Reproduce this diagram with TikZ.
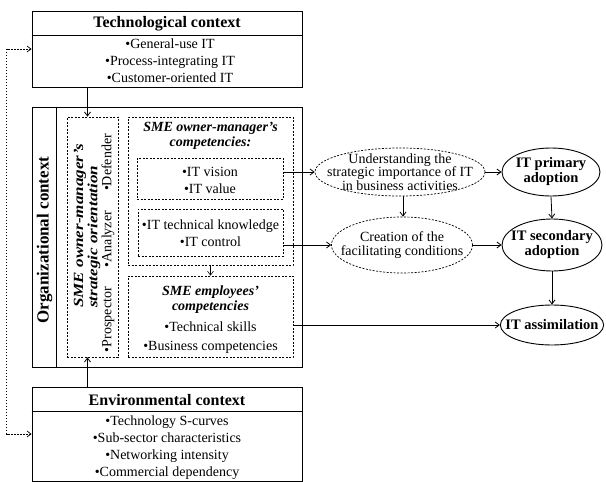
\documentclass[tikz,border=0pt]{standalone}
\usepackage{fontspec}
\setmainfont{Liberation Serif}
\usepackage{tikz}
\usetikzlibrary{arrows.meta, positioning, shapes.geometric, calc}

\begin{document}
\begin{tikzpicture}[x=1pt, y=-1pt,
    font=\fontsize{14}{17}\selectfont,
    ctxbox/.style={draw, line width=0.9pt, inner sep=0pt},
    dashbox/.style={draw, line width=0.7pt, dash pattern=on 2pt off 1.5pt, inner sep=0pt},
    oval/.style={draw, ellipse, line width=0.9pt, inner xsep=-10pt, inner ysep=-5pt, align=center, font=\fontsize{14.5}{15}\selectfont\bfseries},
    dotoval/.style={draw, ellipse, line width=0.7pt, dash pattern=on 2pt off 1.5pt, inner xsep=-18pt, inner ysep=-5pt, align=center, font=\fontsize{14}{13.5}\selectfont},
    title/.style={font=\fontsize{16}{19}\selectfont\bfseries},
    ititle/.style={font=\fontsize{14}{15}\selectfont\bfseries\itshape, align=center},
    items/.style={align=center, inner sep=0pt},
    arr/.style={-{Straight Barb[length=4pt,width=6pt]}, line width=0.8pt},
    dotarr/.style={{Straight Barb[length=4pt,width=6pt]}-{Straight Barb[length=4pt,width=6pt]}, line width=0.7pt, dash pattern=on 1.5pt off 1.5pt}
  ]
  \useasboundingbox (0,0) rectangle (606,482);

  % the three contexts
  \node[ctxbox, minimum width=270pt, minimum height=76pt] (tech) at (167,49) {};
  \draw[line width=0.9pt] ([yshift=-25pt]tech.north west) -- ([yshift=-25pt]tech.north east);
  \node[title] (techtitle) at (167,24) {Technological context};
  \node[items] (techitems) at (170,60.5) {\textbullet General-use IT\\\textbullet Process-integrating IT\\\textbullet Customer-oriented IT};

  \node[ctxbox, minimum width=270pt, minimum height=260pt] (org) at (167,237) {};
  \draw[line width=0.9pt] ([xshift=25pt]org.north west) -- ([xshift=25pt]org.south west);
  \node[title, font=\fontsize{17}{19}\selectfont\bfseries, rotate=90] (orgtitle) at (44.5,240) {Organizational context};

  \node[ctxbox, minimum width=270pt, minimum height=94pt] (env) at (167,434) {};
  \draw[line width=0.9pt] ([yshift=-25pt]env.north west) -- ([yshift=-25pt]env.north east);
  \node[title] (envtitle) at (167,400) {Environmental context};
  \node[items] (envitems) at (167,448) {\textbullet Technology S-curves\\\textbullet Sub-sector characteristics\\\textbullet Networking intensity\\\textbullet Commercial dependency};

  % inside the organizational context
  \node[dashbox, minimum width=51pt, minimum height=240pt] (strat) at (92.5,237) {};
  \node[ititle, rotate=90, anchor=west, inner sep=0pt] (strattitle1) at (80,308) {\scalebox{1.22}[1]{SME owner-manager's}};
  \node[ititle, rotate=90, anchor=west, inner sep=0pt] (strattitle2) at (94,308) {\scalebox{1.22}[1]{strategic orientation}};
  \node[rotate=90, inner sep=0pt, text width=218pt] (stratitems) at (108,243) {\textbullet Prospector\hfill\textbullet Analyzer\hfill\textbullet Defender};

  \node[dashbox, minimum width=165pt, minimum height=148pt] (comp) at (210.5,191) {};
  \node[ititle] (comptitle) at (210.5,135.5) {SME owner-manager's\\competencies:};
  \node[dashbox, minimum width=146pt, minimum height=41pt] (vision) at (210,178.5) {};
  \node[items] (visionitems) at (210,180) {\textbullet IT vision\\\textbullet IT value};
  \node[dashbox, minimum width=145pt, minimum height=47pt] (know) at (210.5,232.5) {};
  \node[items] (knowitems) at (210.5,233.5) {\textbullet IT technical knowledge\\\textbullet IT control};

  \node[dashbox, minimum width=165pt, minimum height=81pt] (emp) at (210.5,316.5) {};
  \node[ititle] (emptitle) at (210.5,299.5) {SME employees'\\competencies};
  \node[items, font=\fontsize{14}{19}\selectfont] (empitems) at (210.5,337.5) {\textbullet Technical skills\\\textbullet Business competencies};

  % mediating and adoption stages
  \node[dotoval, minimum width=170pt, minimum height=48pt] (und) at (400,172) {Understanding the\\strategic importance of IT\\in business activities};
  \node[dotoval, minimum width=141pt, minimum height=56pt] (cre) at (402,245) {Creation of the\\facilitating conditions};
  \node[oval, minimum width=98pt, minimum height=48pt] (prim) at (551,172) {IT primary\\adoption};
  \node[oval, minimum width=100pt, minimum height=52pt] (sec) at (552,245) {IT secondary\\adoption};
  \node[oval, minimum width=100pt, minimum height=40pt] (assim) at (552,325) {IT assimilation};

  % connectors
  \draw[arr] ([xshift=-5pt]tech.south -| strat.north) -- ([xshift=-5pt]strat.north);
  \draw[arr] ([xshift=-5pt]env.north -| strat.south) -- ([xshift=-5pt]strat.south);
  \draw[dotarr] (tech.west) -- ++(-25pt,0) |- (env.west);
  \draw[arr, line width=0.6pt] (comp.south) -- (emp.north);
  \draw[arr] (vision.east |- und.west) -- (und.west);
  \draw[arr] (know.east |- cre.west) -- (cre.west);
  \draw[arr] (emp.east |- assim.west) -- (assim.west);
  \draw[arr] (und.east) -- (prim.west);
  \draw[arr] (cre.east) -- (sec.west);
  \draw[arr] ([xshift=3pt]und.south) -- ([xshift=1pt]cre.north);
  \draw[arr] (prim.south) -- (sec.north);
  \draw[arr] (sec.south) -- (assim.north);
\end{tikzpicture}
\end{document}
